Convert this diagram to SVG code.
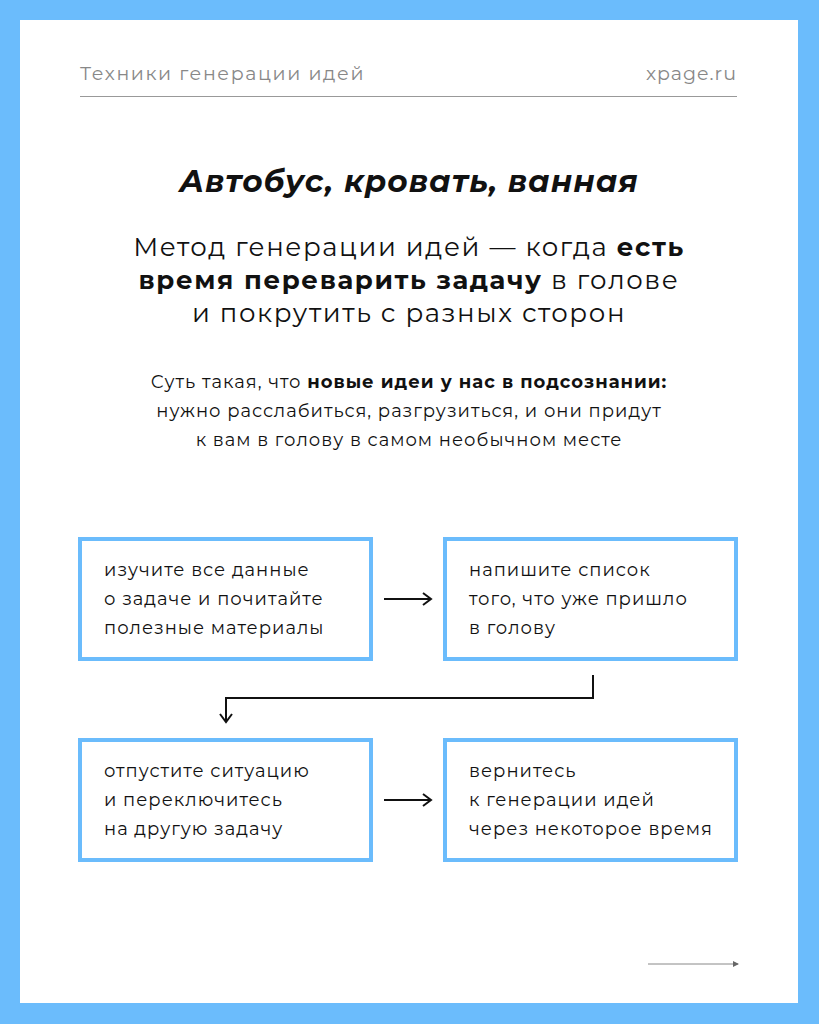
<svg xmlns="http://www.w3.org/2000/svg" width="819" height="1024" viewBox="0 0 819 1024">
<style>
.t{font-family:Montserrat,"Noto Sans","Open Sans",sans-serif;fill:#111;letter-spacing:1px}
.box{fill:#fff;stroke:#6bbcfc;stroke-width:4}
.bt{font-family:Montserrat,"Noto Sans","Open Sans",sans-serif;font-size:18px;fill:#111;letter-spacing:1px}
.c{fill:none;stroke:#111;stroke-width:2}
</style>
<defs>
<marker id="a" markerWidth="12" markerHeight="14" refX="10" refY="7" orient="auto" markerUnits="userSpaceOnUse">
<path d="M2,1 L10,7 L2,13" fill="none" stroke="#111" stroke-width="2"/>
</marker>
<marker id="s" markerWidth="6" markerHeight="6" refX="5" refY="3" orient="auto" markerUnits="userSpaceOnUse">
<path d="M0,0 L6,3 L0,6Z" fill="#666"/>
</marker>
</defs>
<rect width="819" height="1024" fill="#6bbcfc"/>
<rect x="20" y="20" width="778" height="983" fill="#fff"/>
<text class="t" x="80" y="80" font-size="19" style="fill:#888;letter-spacing:1.6px">Техники генерации идей</text>
<text class="t" x="737" y="80" font-size="19" text-anchor="end" style="fill:#888">xpage.ru</text>
<line x1="80" y1="96.5" x2="737" y2="96.5" stroke="#999" stroke-width="1"/>
<text class="t" x="409" y="192" font-size="31" font-weight="bold" font-style="italic" text-anchor="middle">Автобус, кровать, ванная</text>
<g class="t" font-size="26" text-anchor="middle">
<text x="409" y="256" style="letter-spacing:1.6px">Метод генерации идей — когда <tspan font-weight="bold">есть</tspan></text>
<text x="409" y="289" style="letter-spacing:1.6px"><tspan font-weight="bold">время переварить задачу</tspan> в голове</text>
<text x="409" y="322" style="letter-spacing:1.6px">и покрутить с разных сторон</text>
</g>
<g class="t" font-size="18" text-anchor="middle">
<text x="409" y="388">Суть такая, что <tspan font-weight="bold">новые идеи у нас в подсознании:</tspan></text>
<text x="409" y="417">нужно расслабиться, разгрузиться, и они придут</text>
<text x="409" y="446">к вам в голову в самом необычном месте</text>
</g>
<g id="n1"><rect class="box" x="80" y="539" width="291" height="120"/>
<text class="bt" x="104" y="576">изучите все данные</text><text class="bt" x="104" y="605">о задаче и почитайте</text><text class="bt" x="104" y="634">полезные материалы</text></g>
<g id="n2"><rect class="box" x="445" y="539" width="291" height="120"/>
<text class="bt" x="469" y="576">напишите список</text><text class="bt" x="469" y="605">того, что уже пришло</text><text class="bt" x="469" y="634">в голову</text></g>
<g id="n3"><rect class="box" x="80" y="740" width="291" height="120"/>
<text class="bt" x="104" y="777">отпустите ситуацию</text><text class="bt" x="104" y="806">и переключитесь</text><text class="bt" x="104" y="835">на другую задачу</text></g>
<g id="n4"><rect class="box" x="445" y="740" width="291" height="120"/>
<text class="bt" x="469" y="777">вернитесь</text><text class="bt" x="469" y="806">к генерации идей</text><text class="bt" x="469" y="835">через некоторое время</text></g>
<g id="connectors">
<line class="c" x1="384" y1="599" x2="431" y2="599" marker-end="url(#a)"/>
<line class="c" x1="384" y1="800" x2="431" y2="800" marker-end="url(#a)"/>
<path class="c" d="M593,675 V698 H226 V722" marker-end="url(#a)"/>
<line x1="648" y1="964" x2="738" y2="964" stroke="#888" stroke-width="1" marker-end="url(#s)"/>
</g>
</svg>
